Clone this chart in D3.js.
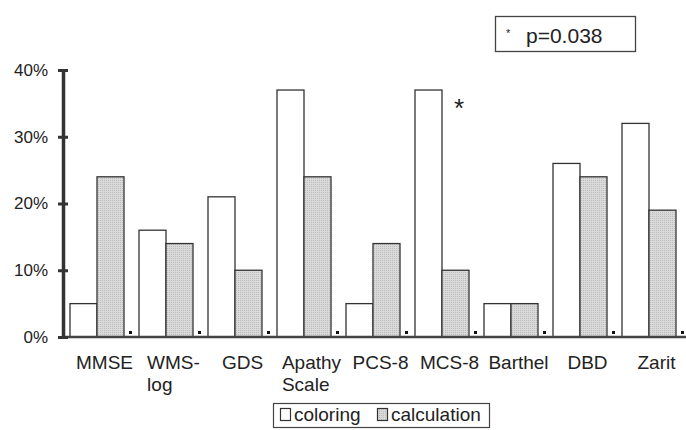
<html>
<head>
<script src="https://cdn.jsdelivr.net/npm/d3@7"></script>
<style>
  body { margin: 0; background: #fff; }
  text { font-family: "Liberation Sans", Arial, sans-serif; fill: #222; }
</style>
</head>
<body>
<svg width="686" height="430"></svg>
<script>
// categories and the two series (percent)
var categories = ['MMSE', 'WMS-log', 'GDS', 'Apathy Scale', 'PCS-8', 'MCS-8', 'Barthel', 'DBD', 'Zarit']
var catLines = [['MMSE'], ['WMS-', 'log'], ['GDS'], ['Apathy', 'Scale'], ['PCS-8'], ['MCS-8'], ['Barthel'], ['DBD'], ['Zarit']]
var coloring = [5, 16, 21, 37, 5, 37, 5, 26, 32]
var calculation = [24, 14, 10, 24, 14, 10, 5, 24, 19]
var yTicks = [0, 10, 20, 30, 40]
var seriesNames = ['coloring', 'calculation']

var svg = d3.select('svg')

// stipple pattern for the gray bars
var defs = svg.append('defs')
var pat = defs.append('pattern')
    .attr('id', 'dots')
    .attr('width', 2).attr('height', 2)
    .attr('patternUnits', 'userSpaceOnUse')
pat.append('rect').attr('width', 2).attr('height', 2).attr('fill', '#dadada')
pat.append('rect').attr('width', 1).attr('height', 1).attr('fill', '#bdbdbd')

var x = d3.scaleBand()
    .domain(categories)
    .range([66, 687])
    .paddingInner(0).paddingOuter(0)

var y = d3.scaleLinear()
    .domain([0, 40])
    .range([337, 70])

var barW = 27
var bw = x.bandwidth()

var groups = svg.selectAll('g.grp')
    .data(categories)
    .enter()
    .append('g')
    .attr('class', 'grp')
    .attr('transform', function(d){ return 'translate(' + x(d) + ',0)' })

// white bars
groups.append('rect')
    .attr('x', 4)
    .attr('width', barW)
    .attr('y', function(d, i){ return y(coloring[i]) })
    .attr('height', function(d, i){ return y(0) - y(coloring[i]) })
    .attr('fill', '#fff')
    .attr('stroke', '#333')
    .attr('stroke-width', 1.3)

// gray bars
groups.append('rect')
    .attr('x', 4 + barW)
    .attr('width', barW)
    .attr('y', function(d, i){ return y(calculation[i]) })
    .attr('height', function(d, i){ return y(0) - y(calculation[i]) })
    .attr('fill', 'url(#dots)')
    .attr('stroke', '#333')
    .attr('stroke-width', 1.3)

// little dots at the baseline
groups.append('rect')
    .attr('x', 4 + 2 * barW + 5)
    .attr('y', y(0) - 6)
    .attr('width', 3).attr('height', 3)
    .attr('fill', '#111')

// category labels (multi-line ones are left aligned, block centred on band)
groups.each(function(d, i){
    var g = d3.select(this)
    var lines = catLines[i]
    var t = g.append('text')
        .attr('y', 369)
        .style('font-size', '19px')
    lines.forEach(function(line, k){
        t.append('tspan')
            .attr('dy', k == 0 ? 0 : 22)
            .text(line)
    })
    // measure widest line and centre the block
    var wmax = 0
    t.selectAll('tspan').each(function(){ wmax = Math.max(wmax, this.getComputedTextLength()) })
    var x0 = bw / 2 + 4 - wmax / 2
    t.selectAll('tspan').attr('x', x0)
})

// baseline
svg.append('line')
    .attr('x1', 62).attr('x2', 686)
    .attr('y1', y(0)).attr('y2', y(0))
    .attr('stroke', '#444').attr('stroke-width', 2.5)

// y axis
var yAxis = d3.axisLeft(y)
    .tickValues(yTicks)
    .tickSizeInner(4).tickSizeOuter(0)
    .tickFormat(function(d){ return d + '%' })
var ga = svg.append('g')
    .attr('transform', 'translate(63,0)')
    .call(yAxis)
ga.select('.domain').attr('stroke', '#333').attr('stroke-width', 3.5)
ga.selectAll('.tick line').attr('x2', 5).attr('x1', -5).attr('stroke', '#333').attr('stroke-width', 3)
ga.selectAll('.tick text')
    .attr('x', -15)
    .style('font-size', '17px')
    .style('font-family', '"Liberation Sans", Arial, sans-serif')
    .attr('fill', '#333')

// asterisk next to MCS-8
svg.append('text')
    .attr('x', x('MCS-8') + 43)
    .attr('y', y(37) + 27)
    .style('font-size', '26px')
    .text('*')

// p-value box
svg.append('rect')
    .attr('x', 495.5).attr('y', 16.5)
    .attr('width', 140).attr('height', 35)
    .attr('fill', '#fff').attr('stroke', '#444').attr('stroke-width', 1.3)
svg.append('text')
    .attr('x', 506).attr('y', 37)
    .style('font-size', '11px')
    .text('*')
svg.append('text')
    .attr('x', 526).attr('y', 43)
    .style('font-size', '21px')
    .text('p=0.038')

// legend
var lg = svg.append('g').attr('transform', 'translate(273,403)')
lg.append('rect')
    .attr('x', 0.5).attr('y', 0.5)
    .attr('width', 216).attr('height', 24)
    .attr('fill', '#fff').attr('stroke', '#444').attr('stroke-width', 1.2)
var items = lg.selectAll('g.item')
    .data(seriesNames)
    .enter()
    .append('g')
    .attr('transform', function(d, i){ return 'translate(' + (i == 0 ? 7 : 104) + ',0)' })
items.append('rect')
    .attr('x', 0.5).attr('y', 5.5)
    .attr('width', 10).attr('height', 12)
    .attr('fill', function(d, i){ return i == 0 ? '#fff' : 'url(#dots)' })
    .attr('stroke', '#333').attr('stroke-width', 1.2)
items.append('text')
    .attr('x', 14).attr('y', 18)
    .style('font-size', '19px')
    .text(function(d){ return d })
</script>
</body>
</html>
